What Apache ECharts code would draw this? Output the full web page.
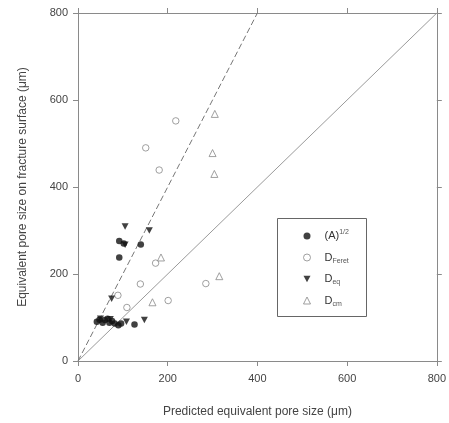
<!DOCTYPE html>
<html>
<head>
<meta charset="utf-8">
<script src="https://cdn.jsdelivr.net/npm/echarts@6/dist/echarts.min.js"></script>
<style>
  html, body { margin: 0; padding: 0; background: #fff; }
  #chart { width: 449px; height: 423px; }
</style>
</head>
<body>
<div id="chart"></div>
<script>
// Tick values shared by all four frame axes
const tickValues = [0, 200, 400, 600, 800];

// (A)^1/2 — square root of pore area
const rootAreaPts = [
  [92, 276], [102, 270], [140, 268], [92, 238],
  [42, 90], [48, 95], [55, 88], [60, 94], [66, 97], [70, 88],
  [76, 92], [82, 86], [90, 82], [96, 86], [126, 84]
];
// D_Feret
const feretPts = [
  [218, 552], [151, 490], [181, 439], [173, 225], [139, 177],
  [89, 151], [109, 123], [201, 139], [285, 178]
];
// D_eq
const eqPts = [
  [105, 309], [159, 300], [105, 267], [75, 143],
  [148, 94], [108, 90], [50, 97], [72, 96]
];
// D_cm
const cmPts = [
  [305, 568], [300, 478], [304, 430], [185, 238], [315, 195], [166, 135]
];
// Reference lines: 1:1 and 2:1
const unityLine = [[0, 0], [800, 800]];
const doubleLine = [[0, 0], [400, 800]];

const seriesNames = ['(A)^1/2', 'D_Feret', 'D_eq', 'D_cm'];
const legendLabels = {
  '(A)^1/2': '{b|(A)}{sup|1/2}',
  'D_Feret': '{b|D}{sub|Feret}',
  'D_eq': '{b|D}{sub|eq}',
  'D_cm': '{b|D}{sub|cm}'
};

const downTriangle = 'path://M0,0L10,0L5,9Z';
const axisColor = '#8a8a8a';
const textColor = '#444';
const font = 'Liberation Sans, Arial, sans-serif';

function frameAxis(pos, extra) {
  return Object.assign({
    type: 'value', min: 0, max: 800, interval: 200, position: pos,
    axisLine: { show: true, onZero: false, lineStyle: { color: axisColor, width: 1 } },
    axisTick: { show: true, inside: false, length: 5, lineStyle: { color: axisColor } },
    axisLabel: { show: false },
    splitLine: { show: false }
  }, extra || {});
}

const chart = echarts.init(document.getElementById('chart'), null, { renderer: 'canvas' });
chart.setOption({
  animation: false,
  backgroundColor: '#fff',
  grid: { left: 78, right: 12, top: 13, bottom: 62 },
  xAxis: [
    frameAxis('bottom', {
      name: 'Predicted equivalent pore size (\u03bcm)',
      nameLocation: 'middle', nameGap: 45,
      nameTextStyle: { color: textColor, fontSize: 12, fontFamily: font },
      axisLabel: { show: true, color: textColor, fontSize: 11, fontFamily: font, margin: 12 }
    }),
    frameAxis('top')
  ],
  yAxis: [
    frameAxis('left', {
      name: 'Equivalent pore size on fracture surface (\u03bcm)',
      nameLocation: 'middle', nameGap: 49,
      nameTextStyle: { color: textColor, fontSize: 12, fontFamily: font },
      axisLabel: { show: true, color: textColor, fontSize: 11, fontFamily: font, margin: 10 }
    }),
    frameAxis('right')
  ],
  legend: {
    orient: 'vertical',
    left: 298, top: 224,
    itemWidth: 7, itemHeight: 7, itemGap: 7.5,
    data: [
      { name: seriesNames[0], icon: 'circle' },
      { name: seriesNames[1], icon: 'circle' },
      { name: seriesNames[2], icon: downTriangle },
      { name: seriesNames[3], icon: 'triangle' }
    ],
    itemStyle: { borderWidth: 1 },
    formatter: name => legendLabels[name],
    textStyle: {
      color: '#333', fontFamily: font, lineHeight: 14,
      rich: {
        b: { fontSize: 11, color: '#333', fontFamily: font, padding: [0, 0, 0, 9] },
        sup: { fontSize: 7, color: '#555', fontFamily: font, verticalAlign: 'top', padding: [0, 0, 6, 0] },
        sub: { fontSize: 7, color: '#555', fontFamily: font, verticalAlign: 'bottom', padding: [6, 0, 0, 0] }
      }
    }
  },
  graphic: [{
    type: 'rect',
    shape: { x: 277.5, y: 218.5, width: 89, height: 98 },
    style: { fill: 'none', stroke: '#666', lineWidth: 1 },
    z: 1
  }],
  series: [
    {
      type: 'line', data: unityLine, showSymbol: false, silent: true,
      lineStyle: { color: '#9a9a9a', width: 1 }, z: 1
    },
    {
      type: 'line', data: doubleLine, showSymbol: false, silent: true,
      lineStyle: { color: '#777', width: 1, type: [6, 3] }, z: 1
    },
    {
      name: '(A)^1/2', type: 'scatter', data: rootAreaPts,
      symbol: 'circle', symbolSize: 6.5,
      itemStyle: { color: '#111', borderWidth: 0 }, z: 3
    },
    {
      name: 'D_Feret', type: 'scatter', data: feretPts,
      symbol: 'circle', symbolSize: 6.5,
      itemStyle: { color: '#fff', borderColor: '#888', borderWidth: 1 }, z: 2
    },
    {
      name: 'D_eq', type: 'scatter', data: eqPts,
      symbol: downTriangle, symbolSize: [7, 6.5],
      itemStyle: { color: '#111', borderWidth: 0 }, z: 3
    },
    {
      name: 'D_cm', type: 'scatter', data: cmPts,
      symbol: 'triangle', symbolSize: 7,
      itemStyle: { color: '#fff', borderColor: '#888', borderWidth: 1 }, z: 2
    }
  ]
});
</script>
</body>
</html>
